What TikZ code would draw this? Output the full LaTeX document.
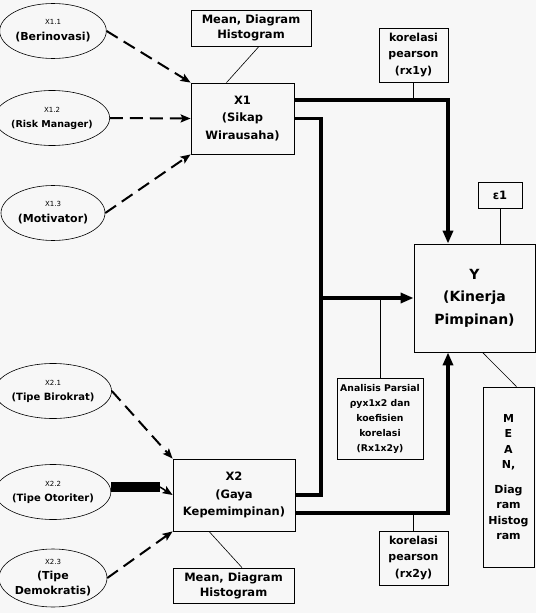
\documentclass[tikz,border=0pt]{standalone}
\usepackage{fontspec}
\setmainfont{DejaVu Sans}
\usetikzlibrary{arrows.meta}
\usetikzlibrary{shapes.geometric}
\definecolor{bgcol}{HTML}{F7F7F7}

\begin{document}
\begin{tikzpicture}[line join=miter,x=1pt,y=-1pt,
    box/.style={draw, line width=0.8pt, rectangle, align=center, inner sep=0pt, font=\bfseries\fontsize{11.5}{16}\selectfont},
    ind/.style={draw, line width=0.6pt, ellipse, align=center, inner sep=0pt, minimum width=104pt, minimum height=55pt, font=\bfseries\fontsize{11}{16}\selectfont},
    dasharrow/.style={line width=2pt, dash pattern=on 13pt off 7pt, -{Stealth[length=10pt,width=8pt,inset=2pt]}},
    mainline/.style={line width=3.5pt},
    mainarrow/.style={line width=3.5pt, -{Triangle[length=13pt,width=10pt]}},
    link/.style={line width=0.6pt}]
    \fill[bgcol] (0,0) rectangle (536,613);
    \useasboundingbox (0,0) rectangle (536,613);

    % indikator X1
    \node[ind] (e11) at (53,31) {{\fontsize{7}{9}\mdseries\selectfont X1.1}\\(Berinovasi)};
    \node[ind, minimum width=100pt, font=\bfseries\fontsize{9.5}{15}\selectfont] (e12) at (52,118) {{\fontsize{7}{9}\mdseries\selectfont X1.2}\\(Risk Manager)};
    \node[ind] (e13) at (53,213) {{\fontsize{7}{9}\mdseries\selectfont X1.3}\\(Motivator)};

    % indikator X2
    \node[ind, font=\bfseries\fontsize{10}{15}\selectfont] (e21) at (53,391) {{\fontsize{7}{9}\mdseries\selectfont X2.1}\\(Tipe Birokrat)};
    \node[ind, font=\bfseries\fontsize{10}{15}\selectfont] (e22) at (53,492) {{\fontsize{7}{9}\mdseries\selectfont X2.2}\\(Tipe Otoriter)};
    \node[ind, minimum width=106pt, minimum height=58pt, font=\bfseries\fontsize{11}{15}\selectfont] (e23) at (53,578) {{\fontsize{7}{9}\mdseries\selectfont X2.3}\\(Tipe\\Demokratis)};

    % variabel
    \node[box, minimum width=103pt, minimum height=71pt, font=\bfseries\fontsize{11.5}{17.5}\selectfont] (x1) at (242.5,118.5) {X1\\(Sikap\\Wirausaha)};
    \node[box, minimum width=122pt, minimum height=72pt, font=\bfseries\fontsize{11.5}{17.5}\selectfont] (x2) at (234,495) {X2\\(Gaya\\Kepemimpinan)};
    \node[box, minimum width=121pt, minimum height=108pt, font=\bfseries\fontsize{14}{22.5}\selectfont] (y) at (474.5,298) {Y\\(Kinerja\\Pimpinan)};

    % keterangan
    \node[box, minimum width=120pt, minimum height=36pt, font=\bfseries\fontsize{11.5}{15}\selectfont] (mean1) at (251,28) {Mean, Diagram\\Histogram};
    \node[box, minimum width=121pt, minimum height=35pt, font=\bfseries\fontsize{11.5}{15}\selectfont] (mean2) at (233.5,585.5) {Mean, Diagram\\Histogram};
    \node[box, minimum width=51pt, minimum height=180pt, font=\bfseries\fontsize{11}{15.5}\selectfont] (mean3) at (508.5,477) {M\\E\\A\\N,\\[9pt]Diag\\ram\\Histog\\ram};
    \node[box, minimum width=69pt, minimum height=54pt, font=\bfseries\fontsize{11}{16.5}\selectfont] (kor1) at (413.5,55) {korelasi\\pearson\\(rx1y)};
    \node[box, minimum width=69pt, minimum height=54pt, font=\bfseries\fontsize{11}{16.5}\selectfont] (kor2) at (413.5,558) {korelasi\\pearson\\(rx2y)};
    \node[box, minimum width=44pt, minimum height=26pt] (eps) at (500,195) {ε1};
    \node[box, minimum width=86pt, minimum height=81pt, font=\bfseries\fontsize{9.3}{15}\selectfont] (anal) at (380,418.5) {Analisis Parsial\\ρyx1x2 dan\\koefisien\\korelasi\\(Rx1x2y)};

    \coordinate (j1) at (448,100);
    \coordinate (j2) at (321,298);
    \coordinate (j3) at (448,513);
    \coordinate (bar) at (160,487);

    % panah indikator
    \draw[dasharrow] (e11.east) -- (x1.north west);
    \draw[dasharrow] (e12.east) -- (x1.west);
    \draw[dasharrow] (e13.east) -- (x1.south west);
    \draw[dasharrow] (e21.east) -- (x2.north west);
    \draw[line width=10pt] (e22.east |- bar) -- (bar);
    \draw[line width=1.5pt, -{Stealth[length=10pt,width=8pt,inset=2pt]}] (bar) -- (x2.west);
    \draw[dasharrow] (e23.east) -- (x2.south west);

    % jalur ke Y
    \draw[mainarrow] (x1.east |- j1) -- (j1) -- (y.north -| j1);
    \draw[mainline] (x1.east) -| (j2) |- (x2.east);
    \draw[mainarrow] (j2) -- (y.west);
    \draw[mainarrow] (x2.east |- j3) -- (j3) -- (y.south -| j3);

    % garis keterangan
    \draw[link] (kor1) -- (kor1 |- j1);
    \draw[link] (kor2) -- (kor2 |- j3);
    \draw[link] (anal) -- (anal |- j2);
    \draw[link] (eps) -- (eps |- y.north);
    \draw[link] ([xshift=8pt]mean1.south) -- ([xshift=-16pt]x1.north);
    \draw[link] ([xshift=-25pt]x2.south) -- ([xshift=8.5pt]mean2.north);
    \draw[link] ([xshift=8pt]y.south) -- ([xshift=8pt]mean3.north);
\end{tikzpicture}
\end{document}
